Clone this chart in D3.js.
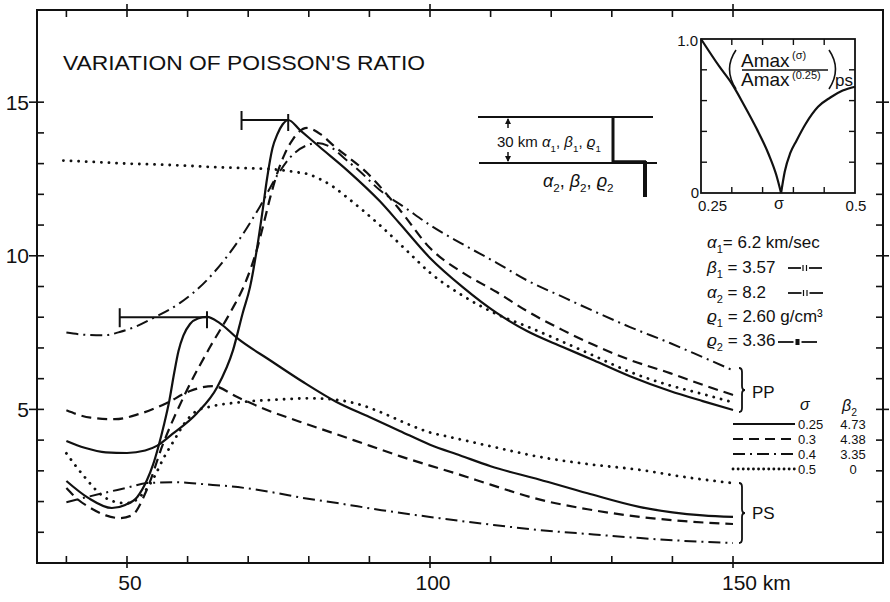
<!DOCTYPE html>
<html><head><meta charset="utf-8">
<script src="https://cdn.jsdelivr.net/npm/d3@7"></script>
<style>
body{margin:0;background:#fff}
svg{display:block}
text{font-family:"Liberation Sans",Arial,sans-serif;fill:#111}
</style>
</head><body>
<svg id="c" width="890" height="602"></svg>
<script>
// ---------- data ----------
const kmTicks = [40,50,60,70,80,90,100,110,120,130,140,150];
const kmLabels = [50,100,150];
const valTicks = [1,2,3,4,5,6,7,8,9,10,11,12,13,14,15];
const valLabels = [5,10,15];

// PP curves (distance km, amplitude)
const ppSigma025 = [[40,3.97],[43,3.75],[46.5,3.6],[50,3.58],[53,3.66],[55,3.82],[57.5,4.2],[61.5,4.87],[64.9,5.73],[67.5,6.93],[69.1,8.14],[70.3,8.98],[71.5,10.3],[72.4,11.5],[73.1,12.5],[74.0,13.5],[74.8,13.95],[75.7,14.28],[76.6,14.42],[78.5,14.1],[81.8,13.54],[86.3,12.79],[91.7,11.78],[95,11.05],[100,9.93],[105.4,8.98],[111,8.14],[116,7.55],[121.9,7.03],[127,6.6],[133,6.08],[139.6,5.6],[145,5.27],[150,4.98]];
const ppSigma03 = [[40,2.44],[42,2.05],[44,1.79],[46.5,1.55],[48.8,1.46],[50.8,1.55],[53.3,2.4],[55.9,3.85],[59.9,5.63],[63.7,7.03],[67,8.14],[69.5,9.11],[71.5,10.25],[72.5,11.0],[73.7,11.95],[74.9,12.75],[76,13.3],[77.4,13.8],[79.7,14.16],[82,13.95],[84,13.6],[89.6,12.7],[95,11.5],[100,10.25],[105.4,9.45],[111,8.82],[116,8.2],[121.9,7.58],[127,7.1],[133,6.61],[139.6,6.18],[145,5.8],[150,5.47]];
const ppSigma04 = [[40,7.5],[43,7.43],[46.2,7.41],[48.8,7.52],[51.5,7.7],[54.3,7.97],[58.7,8.46],[63.2,9.21],[66,9.85],[68.6,10.55],[71.9,11.59],[74.8,12.62],[77.4,13.3],[79.5,13.58],[81.4,13.67],[83.5,13.55],[86,13.15],[88.4,12.75],[91.7,12.14],[96,11.55],[100,11.0],[105,10.42],[111,9.77],[116,9.2],[121.9,8.66],[127,8.2],[133,7.68],[139.6,7.16],[145,6.7],[150,6.27]];
const ppSigma05 = [[39.5,13.1],[45,13.05],[50,13.0],[55,12.97],[60,12.93],[65,12.88],[70,12.85],[75,12.8],[78,12.72],[80,12.65],[81.8,12.5],[84,12.25],[86.3,11.9],[91.7,11.0],[96,10.2],[100,9.45],[105.4,8.7],[111,8.1],[116,7.7],[121.9,7.2],[127,6.75],[133,6.22],[139.6,5.78],[145,5.5],[150,5.23]];

// PS curves
const psSigma025 = [[40,2.67],[43.6,2.12],[47.5,1.79],[49.7,1.89],[51.7,2.15],[53.3,2.7],[54.3,3.2],[55.2,3.8],[56.1,4.5],[57,5.3],[57.8,6.2],[58.5,6.9],[59.3,7.4],[60.4,7.78],[61.7,7.96],[63.2,8.01],[65.3,7.81],[68.3,7.3],[73.6,6.6],[79,5.9],[84.5,5.25],[90,4.75],[95,4.3],[100,3.85],[105,3.5],[110,3.15],[118,2.72],[126,2.27],[134.7,1.82],[140,1.65],[145,1.55],[150,1.5]];
const psSigma03 = [[40,4.97],[44,4.73],[48,4.68],[52,4.85],[56.5,5.2],[60.4,5.6],[64.2,5.76],[68.2,5.4],[73.1,4.98],[78.5,4.6],[84,4.23],[90,3.82],[95,3.48],[100,3.17],[105,2.87],[110,2.55],[118,2.07],[126,1.75],[134.7,1.5],[142,1.36],[150,1.27]];
const psSigma04 = [[40,1.98],[46,2.27],[50,2.45],[53.3,2.6],[58,2.63],[63,2.56],[68.3,2.47],[74,2.3],[79.3,2.11],[84.7,1.95],[92,1.72],[100,1.5],[110,1.25],[118.2,1.07],[127,0.93],[134.7,0.81],[142,0.72],[150,0.65]];
const psSigma05 = [[40,3.57],[43,2.8],[46.2,2.15],[48.3,1.98],[50,1.95],[51.5,2.05],[53,2.35],[54.5,2.8],[56,3.4],[57.8,4.0],[59.5,4.55],[61.5,4.95],[64,5.1],[68,5.22],[75,5.32],[80,5.36],[85,5.3],[88,5.18],[92,4.9],[96,4.55],[100,4.25],[103.3,4.1],[110,3.8],[118.2,3.45],[126,3.22],[134.7,3.03],[142,2.8],[150,2.6]];

// horizontal bars left of the maxima: [from km, to km, level]
const peakBars = [[48.8,63.2,8.0],[68.9,76.6,14.42]];

// inset: amplitude ratio vs Poisson's ratio
const insetSigma = [0.25,0.28,0.30,0.32,0.34,0.36,0.372,0.38,0.386,0.395,0.405,0.42,0.44,0.46,0.48,0.5];
const insetRatio = [1.0,0.82,0.71,0.57,0.42,0.25,0.12,0.0,0.14,0.26,0.34,0.45,0.56,0.62,0.665,0.69];
const insetXTicks = [0.30,0.35,0.40,0.45];
const insetYTicks = [0.2,0.4,0.6,0.8];

// legend
const legendSigma = ["0.25","0.3","0.4","0.5"];
const legendBeta2 = ["4.73","4.38","3.35","0"];

// ---------- drawing ----------
const svg = d3.select("#c");
const x = d3.scaleLinear().domain([35.15,174.75]).range([37,883]);
const y = d3.scaleLinear().domain([0,18]).range([563,10]);
const ink = "#111";

const styles = {
  solid:   {dash:null, w:2.2, cap:"butt"},
  dashed:  {dash:"10,6", w:2.2, cap:"butt"},
  dashdot: {dash:"12,5,2,5", w:2.0, cap:"butt"},
  dotted:  {dash:"0.1,7.5", w:2.8, cap:"round"}
};

// frame
svg.append("rect").attr("x",37).attr("y",10).attr("width",846).attr("height",553)
  .attr("fill","none").attr("stroke",ink).attr("stroke-width",2);

const tk = svg.append("g").attr("stroke",ink).attr("stroke-width",1.6);
kmTicks.forEach(k=>{
  const major = kmLabels.includes(k);
  tk.append("line").attr("x1",x(k)).attr("x2",x(k)).attr("y1",563+(major?5:0)).attr("y2",556);
  tk.append("line").attr("x1",x(k)).attr("x2",x(k)).attr("y1",10-(major?6:0)).attr("y2",17);
});
valTicks.forEach(v=>{
  const major = valLabels.includes(v);
  tk.append("line").attr("x1",37-(major?8:0)).attr("x2",44).attr("y1",y(v)).attr("y2",y(v));
  tk.append("line").attr("x1",883+(major?6:0)).attr("x2",876).attr("y1",y(v)).attr("y2",y(v));
});
valLabels.forEach(v=>{
  svg.append("text").attr("x",29).attr("y",y(v)+7.5).attr("text-anchor","end")
    .attr("font-size",21).text(v);
});
kmLabels.forEach(k=>{
  const t = svg.append("text").attr("y",590).attr("font-size",21);
  if(k===150){ t.attr("x",x(k)-11).attr("text-anchor","start").text(k+" km"); }
  else { t.attr("x",x(k)+3).attr("text-anchor","middle").text(k); }
});

// title
svg.append("text").attr("x",63).attr("y",70).attr("font-size",21)
  .attr("textLength",362).attr("lengthAdjust","spacingAndGlyphs")
  .text("VARIATION OF POISSON'S RATIO");

// curves
const line = d3.line().x(d=>x(d[0])).y(d=>y(d[1])).curve(d3.curveMonotoneX);
const series = [
  [ppSigma025,"solid"],[ppSigma03,"dashed"],[ppSigma04,"dashdot"],[ppSigma05,"dotted"],
  [psSigma025,"solid"],[psSigma03,"dashed"],[psSigma04,"dashdot"],[psSigma05,"dotted"]
];
series.forEach(([d,s])=>{
  const st = styles[s];
  svg.append("path").attr("d",line(d)).attr("fill","none").attr("stroke",ink)
    .attr("stroke-width",st.w).attr("stroke-dasharray",st.dash).attr("stroke-linecap",st.cap);
});

// bars
peakBars.forEach(([a,b,v])=>{
  const g = svg.append("g").attr("stroke",ink).attr("stroke-width",2);
  g.append("line").attr("x1",x(a)).attr("x2",x(b)).attr("y1",y(v)).attr("y2",y(v));
  g.append("line").attr("x1",x(a)).attr("x2",x(a)).attr("y1",y(v)-9).attr("y2",y(v)+10);
  g.append("line").attr("x1",x(b)).attr("x2",x(b)).attr("y1",y(v)-6).attr("y2",y(v)+11);
});

// rich text helper
function rich(x0,y0,parts,size,anchor){
  const t = svg.append("text").attr("x",x0).attr("y",y0).attr("font-size",size);
  if(anchor) t.attr("text-anchor",anchor);
  let shifted = 0;
  parts.forEach(p=>{
    const s = t.append("tspan").text(p.t);
    const target = p.sub ? size*0.3 : (p.sup ? -size*0.42 : 0);
    const dy = target - shifted; shifted = target;
    if(dy) s.attr("dy",dy);
    if(p.sub||p.sup) s.attr("font-size",size*0.65);
    if(p.it) s.attr("font-style","italic");
  });
  return t;
}

// layer diagram
const ld = svg.append("g").attr("stroke",ink);
ld.append("line").attr("x1",478).attr("x2",653).attr("y1",117).attr("y2",117).attr("stroke-width",2);
ld.append("line").attr("x1",479).attr("x2",657).attr("y1",163).attr("y2",163).attr("stroke-width",2);
ld.append("line").attr("x1",613).attr("x2",613).attr("y1",117).attr("y2",163).attr("stroke-width",3);
ld.append("line").attr("x1",612).attr("x2",646).attr("y1",162).attr("y2",162).attr("stroke-width",3.5);
ld.append("line").attr("x1",645).attr("x2",645).attr("y1",161).attr("y2",197).attr("stroke-width",4);
ld.append("line").attr("x1",508).attr("x2",508).attr("y1",119).attr("y2",128).attr("stroke-width",1.5);
ld.append("line").attr("x1",508).attr("x2",508).attr("y1",152).attr("y2",161).attr("stroke-width",1.5);
svg.append("path").attr("d","M508,118 L505,124 L511,124 Z M508,162 L505,156 L511,156 Z").attr("fill",ink);
rich(497,147,[{t:"30 km "},{t:"α",it:1},{t:"1",sub:1},{t:", "},{t:"β",it:1},{t:"1",sub:1},{t:", "},{t:"ϱ",it:1},{t:"1",sub:1}],15);
rich(543,187,[{t:"α",it:1},{t:"2",sub:1},{t:", "},{t:"β",it:1},{t:"2",sub:1},{t:", "},{t:"ϱ",it:1},{t:"2",sub:1}],18);

// inset
const ix = d3.scaleLinear().domain([0.25,0.5]).range([701,855]);
const iy = d3.scaleLinear().domain([0,1]).range([193,39]);
svg.append("rect").attr("x",701).attr("y",39).attr("width",154).attr("height",154)
  .attr("fill","#fff").attr("stroke",ink).attr("stroke-width",1.8);
const it = svg.append("g").attr("stroke",ink).attr("stroke-width",1.4);
insetXTicks.forEach(s=>{
  it.append("line").attr("x1",ix(s)).attr("x2",ix(s)).attr("y1",193).attr("y2",187);
  it.append("line").attr("x1",ix(s)).attr("x2",ix(s)).attr("y1",39).attr("y2",45);
});
insetYTicks.forEach(r=>{
  it.append("line").attr("x1",701).attr("x2",707).attr("y1",iy(r)).attr("y2",iy(r));
  it.append("line").attr("x1",855).attr("x2",849).attr("y1",iy(r)).attr("y2",iy(r));
});
const insetPts = insetSigma.map((s,i)=>[s,insetRatio[i]]);
const minI = insetRatio.indexOf(d3.min(insetRatio));
const iline = d3.line().x(d=>ix(d[0])).y(d=>iy(d[1])).curve(d3.curveMonotoneX);
[insetPts.slice(0,minI+1), insetPts.slice(minI)].forEach(b=>{
  svg.append("path").attr("d",iline(b)).attr("fill","none").attr("stroke",ink).attr("stroke-width",2.2);
});
svg.append("text").attr("x",698).attr("y",46).attr("text-anchor","end").attr("font-size",15).text("1.0");
svg.append("text").attr("x",699).attr("y",198).attr("text-anchor","end").attr("font-size",15).text("0");
svg.append("text").attr("x",698).attr("y",211).attr("font-size",15).text("0.25");
svg.append("text").attr("x",ix(0.5)+1).attr("y",211).attr("text-anchor","middle").attr("font-size",15).text("0.5");
svg.append("text").attr("x",ix(0.375)+1).attr("y",209).attr("text-anchor","middle").attr("font-size",16).text("σ");
// inset label (fraction)
const fr = svg.append("g").attr("stroke",ink).attr("fill","none").attr("stroke-width",1.6);
fr.append("path").attr("d","M736,50 Q723,69 736,89");
fr.append("path").attr("d","M829,50 Q842,69 829,89");
fr.append("line").attr("x1",742).attr("x2",828).attr("y1",70).attr("y2",70);
svg.append("text").attr("x",741).attr("y",67).attr("font-size",19).text("Amax");
svg.append("text").attr("x",792).attr("y",59).attr("font-size",11).text("(σ)");
svg.append("text").attr("x",741).attr("y",86).attr("font-size",19).text("Amax");
svg.append("text").attr("x",792).attr("y",79).attr("font-size",11).text("(0.25)");
svg.append("text").attr("x",835).attr("y",86).attr("font-size",17).text("ps");

// parameter block
rich(707,248,[{t:"α",it:1},{t:"1",sub:1},{t:"= 6.2 km/sec"}],17);
rich(707,273,[{t:"β",it:1},{t:"1",sub:1},{t:" = 3.57"}],17);
rich(707,298,[{t:"α",it:1},{t:"2",sub:1},{t:" = 8.2"}],17);
rich(707,322,[{t:"ϱ",it:1},{t:"1",sub:1},{t:" = 2.60 g/cm³"}],17);
rich(707,346,[{t:"ϱ",it:1},{t:"2",sub:1},{t:" = 3.36"}],17);
function sym(x1,x2,yy,kind){
  const g = svg.append("g").attr("stroke",ink).attr("stroke-width",1.8);
  const m = (x1+x2)/2;
  g.append("line").attr("x1",x1).attr("x2",m-4).attr("y1",yy).attr("y2",yy);
  g.append("line").attr("x1",m+4).attr("x2",x2).attr("y1",yy).attr("y2",yy);
  if(kind==="bars"){
    g.append("line").attr("x1",m-2).attr("x2",m-2).attr("y1",yy-3).attr("y2",yy+3).attr("stroke-width",1.2);
    g.append("line").attr("x1",m+1.5).attr("x2",m+1.5).attr("y1",yy-3).attr("y2",yy+3).attr("stroke-width",1.2);
  } else {
    svg.append("rect").attr("x",m-2).attr("y",yy-3).attr("width",4).attr("height",6).attr("fill",ink);
  }
}
sym(788,822,268,"bars");
sym(788,823,293,"bars");
sym(778,817,342,"block");

// braces
function brace(x0,y1,y2){
  const ym=(y1+y2)/2, w=3, d=4;
  svg.append("path").attr("fill","none").attr("stroke",ink).attr("stroke-width",1.8)
    .attr("d",`M${x0},${y1} Q${x0+w},${y1} ${x0+w},${y1+d} L${x0+w},${ym-d} Q${x0+w},${ym} ${x0+2*w},${ym} Q${x0+w},${ym} ${x0+w},${ym+d} L${x0+w},${y2-d} Q${x0+w},${y2} ${x0},${y2}`);
}
brace(739,368,412);
brace(739,483,543);
svg.append("text").attr("x",752).attr("y",398).attr("font-size",17).text("PP");
svg.append("text").attr("x",752).attr("y",519).attr("font-size",17).text("PS");

// legend
svg.append("text").attr("x",800).attr("y",410).attr("font-size",16).attr("font-style","italic").text("σ");
rich(842,411,[{t:"β",it:1},{t:"2",sub:1}],16);
const legY = [424,439,454,469];
["solid","dashed","dashdot","dotted"].forEach((s,i)=>{
  const st = styles[s];
  svg.append("line").attr("x1",733).attr("x2",795).attr("y1",legY[i]).attr("y2",legY[i])
    .attr("stroke",ink).attr("stroke-width",st.w).attr("stroke-dasharray",s==="dotted"?"0.1,5":st.dash)
    .attr("stroke-linecap",st.cap);
  svg.append("text").attr("x",798).attr("y",legY[i]+5).attr("font-size",13).text(legendSigma[i]);
  svg.append("text").attr("x",853).attr("y",legY[i]+5).attr("font-size",13).attr("text-anchor","middle").text(legendBeta2[i]);
});
</script>
</body></html>
